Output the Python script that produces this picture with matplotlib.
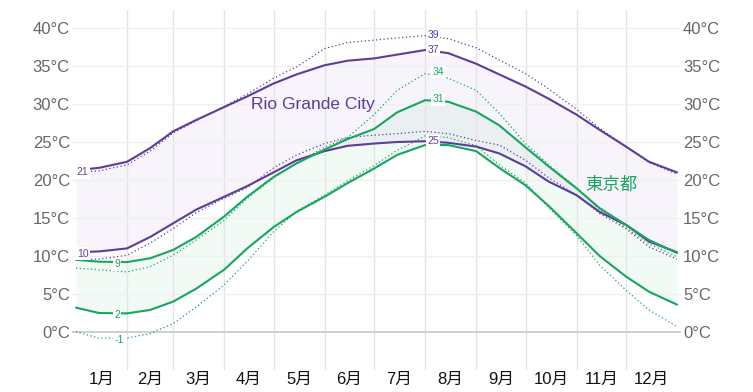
import matplotlib
matplotlib.use("Agg")
import matplotlib.pyplot as plt

plt.rcParams['font.family'] = ['Liberation Sans', 'Noto Sans CJK JP', 'DejaVu Sans']

# ---- data (day of year, °C) ----
days = [0, 14, 31, 45, 59, 73, 90, 104, 120, 134, 151, 165, 181, 195, 212,
        226, 243, 257, 273, 287, 304, 318, 334, 348, 365]

rio_high = [21.3, 21.6, 22.4, 24.2, 26.4, 27.9, 29.6, 31.0, 32.7, 33.9, 35.1, 35.7, 36.0,
            36.5, 37.1, 36.7, 35.3, 33.9, 32.3, 30.7, 28.6, 26.6, 24.4, 22.4, 21.0]
rio_high_feel = [21.0, 21.2, 22.0, 23.8, 26.2, 27.8, 29.7, 31.3, 33.4, 34.9, 37.3, 38.1, 38.4,
                 38.7, 39.0, 38.6, 37.4, 35.8, 34.0, 32.0, 29.3, 26.8, 24.4, 22.3, 20.8]
rio_low = [10.5, 10.6, 11.0, 12.5, 14.3, 16.1, 17.8, 19.2, 21.0, 22.6, 23.8, 24.5, 24.8,
           25.0, 25.1, 24.9, 24.4, 23.5, 21.8, 19.8, 18.0, 15.8, 14.1, 11.9, 10.5]
rio_low_feel = [9.5, 9.6, 10.1, 11.7, 13.6, 15.7, 17.6, 19.0, 21.6, 23.3, 24.8, 25.6, 25.9,
                26.1, 26.4, 26.1, 25.2, 24.6, 22.6, 20.3, 18.0, 15.6, 13.6, 11.2, 9.6]

tokyo_high = [9.5, 9.25, 9.2, 9.7, 10.8, 12.5, 15.2, 17.8, 20.4, 22.2, 24.0, 25.4, 26.7,
              28.9, 30.5, 30.3, 29.0, 27.2, 24.3, 21.8, 18.9, 16.3, 14.1, 12.1, 10.4]
tokyo_high_feel = [8.4, 8.2, 7.9, 8.6, 10.1, 12.1, 14.7, 17.6, 20.3, 22.3, 24.3, 25.6, 28.6,
                   31.8, 34.0, 33.4, 31.8, 28.8, 24.8, 22.0, 19.0, 16.1, 13.7, 11.6, 9.9]
tokyo_low = [3.2, 2.5, 2.45, 2.9, 4.0, 5.7, 8.2, 11.0, 13.8, 15.8, 17.8, 19.6, 21.5,
             23.3, 24.6, 24.6, 23.8, 21.6, 19.3, 16.6, 13.0, 10.0, 7.3, 5.3, 3.6]
tokyo_low_feel = [0.05, -0.8, -0.8, -0.2, 1.1, 3.3, 6.2, 9.3, 13.2, 15.9, 18.0, 19.9, 21.9,
                  23.9, 25.8, 25.6, 24.5, 22.0, 19.6, 16.4, 12.7, 8.8, 5.5, 2.9, 0.7]

# value labels: (day, value, text)
rio_labels = [(4, 21.0, "21"), (4, 10.3, "10"), (217, 39.1, "39"), (217, 37.1, "37"), (217, 25.1, "25")]
tokyo_labels = [(25, 8.9, "9"), (25, 2.2, "2"), (26, -1.05, "-1"), (220, 34.2, "34"), (220, 30.6, "31")]

month_starts = [0, 31, 59, 90, 120, 151, 181, 212, 243, 273, 304, 334, 365]
month_labels = [f"{m}月" for m in range(1, 13)]
y_ticks = [0, 5, 10, 15, 20, 25, 30, 35, 40]

city_names = ["Rio Grande City", "東京都"]

PURPLE = "#5e3c99"
GREEN = "#17a65e"

# ---- figure ----
W, H = 753, 392
fig = plt.figure(figsize=(W / 100, H / 100), dpi=100)
ax = fig.add_axes([72 / W, 1 - 370 / H, (681 - 72) / W, 360 / H])
ppd = 601 / 365
ax.set_xlim(-4 / ppd, 365 + 4 / ppd)
ax.set_ylim(-5.0, 42.37)
for s in ax.spines.values():
    s.set_visible(False)

# grid
for d in month_starts[1:-1]:
    ax.axvline(d, color="#e4e4e4", lw=1, zorder=1)
for v in y_ticks:
    if v == 0:
        ax.axhline(v, color="#cfcfcf", lw=1.4, zorder=1)
    else:
        ax.axhline(v, color="#f0f0f0", lw=1, zorder=1)

# bands
ax.fill_between(days, rio_low, rio_high, color="#7b52c8", alpha=0.06, lw=0, zorder=0.5)
ax.fill_between(days, tokyo_low, tokyo_high, color=GREEN, alpha=0.055, lw=0, zorder=0.6)

# lines
for ys in (rio_high, rio_low):
    ax.plot(days, ys, color=PURPLE, lw=1.5, zorder=4, solid_capstyle="round")
for ys in (rio_high_feel, rio_low_feel):
    ax.plot(days, ys, color=PURPLE, lw=0.9, ls=(0, (1, 2)), zorder=3)
for ys in (tokyo_high, tokyo_low):
    ax.plot(days, ys, color=GREEN, lw=1.5, zorder=4, solid_capstyle="round")
for ys in (tokyo_high_feel, tokyo_low_feel):
    ax.plot(days, ys, color=GREEN, lw=0.9, ls=(0, (1, 2)), zorder=3)

# value labels
for labels, col in ((rio_labels, PURPLE), (tokyo_labels, GREEN)):
    for d, v, t in labels:
        ax.text(d, v, t, color=col, fontsize=7.5, ha="center", va="center", zorder=6,
                bbox=dict(facecolor="white", edgecolor="none", pad=1.0))

# city names
ax.text(106, 29.9, city_names[0], color=PURPLE, fontsize=12.5, ha="left", va="center", zorder=7)
ax.text(325, 19.3, city_names[1], color=GREEN, fontsize=12.5, ha="center", va="center", zorder=7)

# ticks
mids = [(month_starts[i] + month_starts[i + 1]) / 2 for i in range(12)]
ax.set_xticks(mids)
ax.set_xticklabels(month_labels, fontsize=12, color="#111111")
ax.tick_params(axis="x", length=0, pad=1.5)
ax.set_yticks(y_ticks)
ax.set_yticklabels([f"{v}°C" for v in y_ticks], fontsize=12, color="#666666")
ax.tick_params(axis="y", length=0, pad=1.5, labelleft=True, labelright=True)

fig.savefig("out.png", dpi=100)
